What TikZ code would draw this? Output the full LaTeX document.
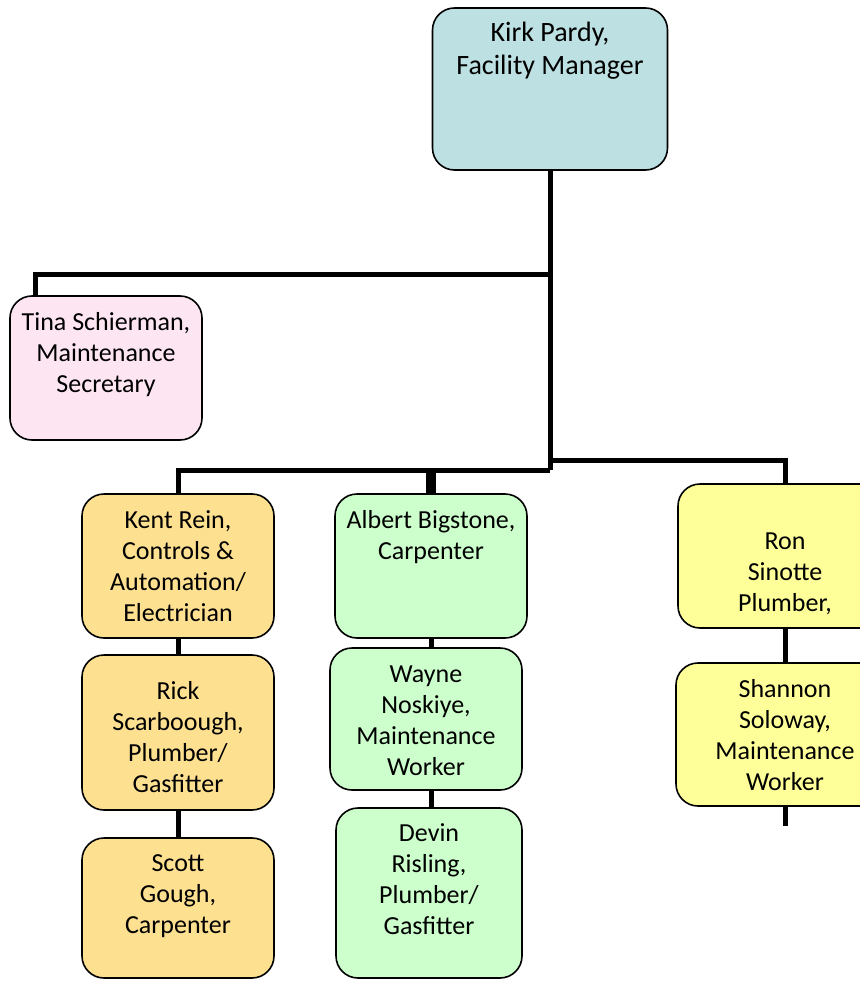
\documentclass[tikz,border=0pt]{standalone}
\usepackage{fontspec}
\setmainfont{Carlito}
\usepackage{tikz}
\definecolor{mgrblue}{RGB}{189,224,227}
\definecolor{secpink}{RGB}{253,229,242}
\definecolor{elecorange}{RGB}{254,224,145}
\definecolor{carpgreen}{RGB}{204,255,204}
\definecolor{plumbyellow}{RGB}{255,255,153}
\tikzstyle{staffbox}=[draw=black,line width=1.6pt,rounded corners=22pt,
                      inner xsep=6pt,inner ysep=0pt]
\tikzstyle{link}=[line width=5pt]
% text block of a box: height, width, lines (first baseline at the option)
\newcommand{\cell}[4][34pt]{\parbox[c][#2][t]{#3}{\centering\rule{0pt}{#1}#4}}

\begin{document}
\begin{tikzpicture}[x=1pt,y=-1pt]
    \fontsize{26}{31}\selectfont
    \useasboundingbox (0,0) rectangle (859,981);
    % boxes
    \node (kirk) at (550,89) [staffbox,fill=mgrblue]
        {\fontsize{28}{33}\selectfont\cell{162pt}{223pt}{Kirk Pardy,\\Facility Manager}};
    \node (tina) at (106,368) [staffbox,fill=secpink]
        {\cell{144pt}{180pt}{Tina Schierman,\\Maintenance\\Secretary}};
    \node (kent) at (178,566) [staffbox,fill=elecorange]
        {\cell{144pt}{180pt}{Kent Rein,\\Controls \&\\Automation/\\Electrician}};
    \node (rick) at (178,732.5) [staffbox,fill=elecorange]
        {\cell[44pt]{155pt}{180pt}{Rick\\Scarboough,\\Plumber/\\Gasfitter}};
    \node (scott) at (178,908) [staffbox,fill=elecorange]
        {\cell[33pt]{140pt}{180pt}{Scott\\Gough,\\Carpenter}};
    \node (albert) at (431,566) [staffbox,fill=carpgreen]
        {\cell{144pt}{180pt}{Albert Bigstone,\\Carpenter}};
    \node (wayne) at (426,719) [staffbox,fill=carpgreen]
        {\cell{142pt}{180pt}{Wayne\\Noskiye,\\Maintenance\\Worker}};
    \node (devin) at (429,893) [staffbox,fill=carpgreen]
        {\cell[33pt]{170pt}{174pt}{Devin\\Risling,\\Plumber/\\Gasfitter}};
    \node (ron) at (785,556) [staffbox,fill=plumbyellow]
        {\cell[65pt]{144pt}{202pt}{Ron\\Sinotte\\Plumber,}};
    \node (shannon) at (785,734.5) [staffbox,fill=plumbyellow]
        {\cell{143pt}{206pt}{Shannon\\Soloway,\\Maintenance\\Worker}};
    % junctions
    \coordinate (jtop) at (550,275);
    \coordinate (jmid) at (550,470);
    \coordinate (jright) at (550,460);
    \coordinate (tinain) at (35,296);
    \coordinate (tail) at (785,826);
    % connectors
    \draw[link] (kirk.south) -- (jmid);
    \draw[link] (jtop) -| (tinain);
    \draw[link] (jmid) -| (kent.north);
    \draw[link] (jright) -| (ron.north);
    \draw[line width=10pt] (albert.north |- jmid) -- (albert.north);
    \draw[link] (kent.south) -- (rick.north);
    \draw[link] (rick.south) -- (scott.north);
    \draw[link] (albert.south) -- (albert.south |- wayne.north);
    \draw[link] (albert.south |- wayne.south) -- (albert.south |- devin.north);
    \draw[link] (ron.south) -- (shannon.north);
    \draw[link] (shannon.south) -- (tail);
  \end{tikzpicture}
\end{document}
